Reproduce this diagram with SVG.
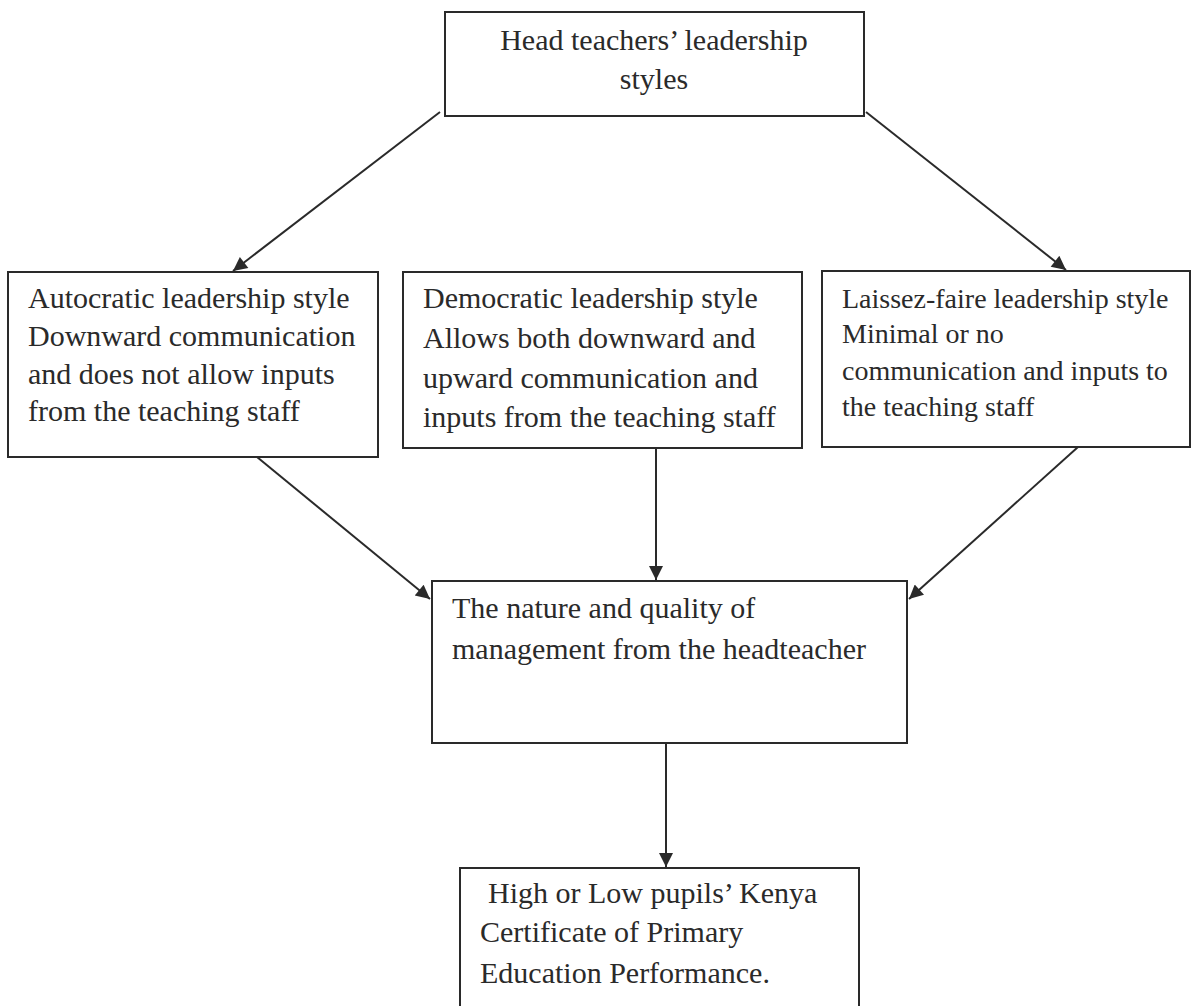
<svg xmlns="http://www.w3.org/2000/svg" width="1195" height="1006" viewBox="0 0 1195 1006">
<defs>
<style>
.box{fill:#ffffff;stroke:#2a2a2a;stroke-width:2}
.t{font-family:"Liberation Serif","Times New Roman",serif;font-size:30px;fill:#2a2a2a}
.s{font-size:28px}
.c{stroke:#2a2a2a;stroke-width:2;fill:none;marker-end:url(#ah)}
</style>
<marker id="ah" viewBox="0 0 10 10" refX="10" refY="5" markerWidth="8" markerHeight="7" markerUnits="strokeWidth" orient="auto">
<path d="M0,0 L10,5 L0,10 z" fill="#2a2a2a"/>
</marker>
</defs>
<rect width="1195" height="1006" fill="#ffffff"/>
<g id="connectors">
<line class="c" x1="440" y1="112" x2="233" y2="271"/>
<line class="c" x1="866" y1="112" x2="1066" y2="270"/>
<line class="c" x1="257" y1="457" x2="430" y2="599"/>
<line class="c" x1="656" y1="448" x2="656" y2="580"/>
<line class="c" x1="1078" y1="447" x2="909" y2="599"/>
<line class="c" x1="666" y1="743" x2="666" y2="867"/>
</g>
<g id="head">
<rect class="box" x="445" y="12" width="419" height="104"/>
<text class="t" x="654" y="50" text-anchor="middle">Head teachers’ leadership</text>
<text class="t" x="654" y="89" text-anchor="middle">styles</text>
</g>
<g id="autocratic">
<rect class="box" x="8" y="272" width="370" height="185"/>
<text class="t" x="28" y="308">Autocratic leadership style</text>
<text class="t" x="28" y="346">Downward communication</text>
<text class="t" x="28" y="384">and does not allow inputs</text>
<text class="t" x="28" y="421">from the teaching staff</text>
</g>
<g id="democratic">
<rect class="box" x="403" y="272" width="399" height="176"/>
<text class="t" x="423" y="308">Democratic leadership style</text>
<text class="t" x="423" y="348">Allows both downward and</text>
<text class="t" x="423" y="388">upward communication and</text>
<text class="t" x="423" y="427">inputs from the teaching staff</text>
</g>
<g id="laissez">
<rect class="box" x="822" y="271" width="368" height="176"/>
<text class="t s" x="842" y="308">Laissez-faire leadership style</text>
<text class="t s" x="842" y="343">Minimal or no</text>
<text class="t s" x="842" y="380">communication and inputs to</text>
<text class="t s" x="842" y="416">the teaching staff</text>
</g>
<g id="management">
<rect class="box" x="432" y="581" width="475" height="162"/>
<text class="t" x="452" y="618">The nature and quality of</text>
<text class="t" x="452" y="659">management from the headteacher</text>
</g>
<g id="performance">
<rect class="box" x="460" y="868" width="399" height="150"/>
<text class="t" x="488" y="903">High or Low pupils’ Kenya</text>
<text class="t" x="480" y="942">Certificate of Primary</text>
<text class="t" x="480" y="983">Education Performance.</text>
</g>
</svg>
